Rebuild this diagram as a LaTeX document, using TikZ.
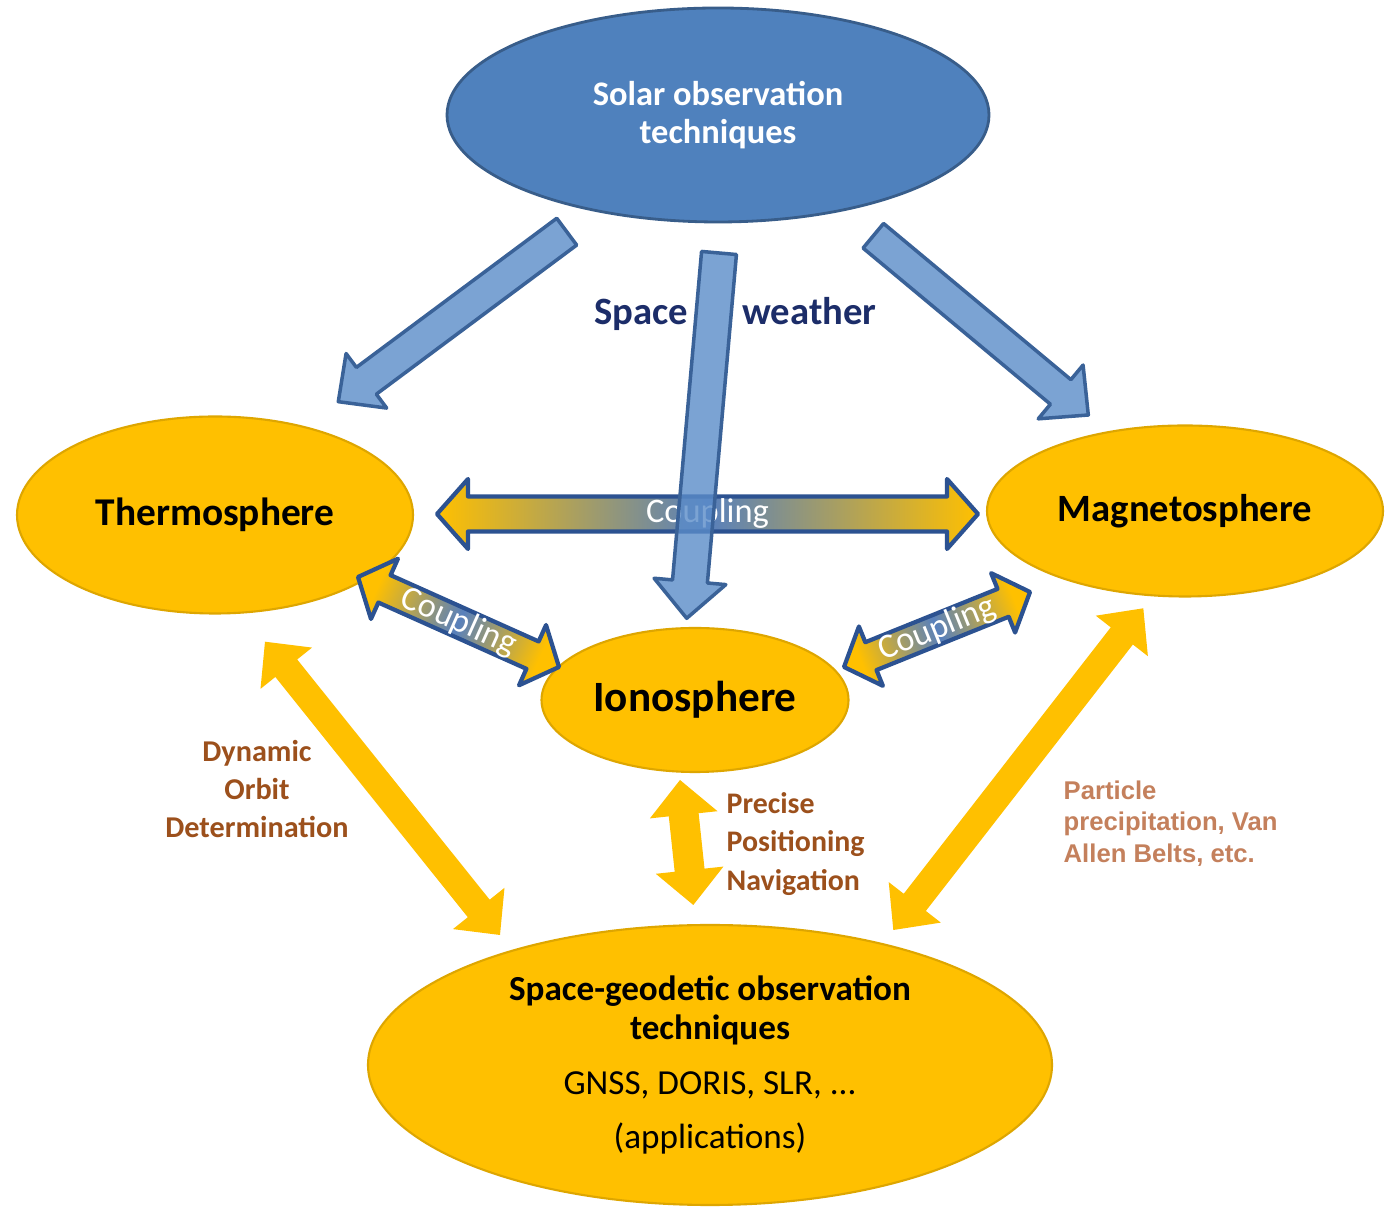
\documentclass[tikz,border=0pt]{standalone}
\usepackage{fontspec}
\setmainfont{Carlito}
\newfontfamily\arialfont{Liberation Sans}
\usepackage{xcolor}
\usetikzlibrary{calc,shapes.geometric}

\definecolor{gold}{RGB}{255,192,0}
\definecolor{goldline}{RGB}{222,166,0}
\definecolor{solarblue}{RGB}{79,129,189}
\definecolor{solarline}{RGB}{56,93,138}
\definecolor{lightblue}{RGB}{91,140,201}
\definecolor{arrowline}{RGB}{58,98,152}
\definecolor{coupline}{RGB}{44,82,145}
\definecolor{coupmid}{RGB}{88,128,188}
\definecolor{navy}{RGB}{28,45,105}
\definecolor{brownlab}{RGB}{156,80,28}
\definecolor{tanlab}{RGB}{196,128,92}

% block arrow: [style]{from}{to}{shaft half width}{head half width}{head length}
\newcommand{\sarrow}[6][]{%
  \path[#1] let \p1=(#2), \p2=(#3), \n1={atan2(\y2-\y1,\x2-\x1)},
    \p3=($(\p2)!#6!(\p1)$) in
    ($(\p1)+(\n1+90:#4)$) -- ($(\p3)+(\n1+90:#4)$) -- ($(\p3)+(\n1+90:#5)$) -- (\p2)
    -- ($(\p3)+(\n1-90:#5)$) -- ($(\p3)+(\n1-90:#4)$) -- ($(\p1)+(\n1-90:#4)$) -- cycle;}
% double block arrow, same arguments
\newcommand{\darrow}[6][]{%
  \path[#1] let \p1=(#2), \p2=(#3), \n1={atan2(\y2-\y1,\x2-\x1)},
    \p3=($(\p1)!#6!(\p2)$), \p4=($(\p2)!#6!(\p1)$) in
    (\p1) -- ($(\p3)+(\n1+90:#5)$) -- ($(\p3)+(\n1+90:#4)$) -- ($(\p4)+(\n1+90:#4)$)
    -- ($(\p4)+(\n1+90:#5)$) -- (\p2) -- ($(\p4)+(\n1-90:#5)$) -- ($(\p4)+(\n1-90:#4)$)
    -- ($(\p3)+(\n1-90:#4)$) -- ($(\p3)+(\n1-90:#5)$) -- cycle;}

\begin{document}
\begin{tikzpicture}[>=latex]
\tikzstyle{sphere}=[ellipse,draw=goldline,line width=0.6pt,fill=gold,inner sep=0pt,align=center]
\tikzstyle{solararrow}=[draw=arrowline,line width=1pt,line join=round,fill=lightblue,fill opacity=0.8]
\tikzstyle{yellowarrow}=[fill=gold]
\tikzstyle{couple}=[draw=coupline,line width=1.2pt,line join=round,left color=gold,right color=gold,middle color=coupmid]
\tikzstyle{coupletext}=[text=white,inner sep=0pt,font=\fontsize{9.8}{11}\selectfont]
\tikzstyle{remark}=[inner sep=0pt,font=\bfseries\fontsize{8.6}{10.8}\selectfont,text=brownlab]

\fill[white] (0,0) rectangle (13.89,12.07);
\useasboundingbox (0,0) rectangle (13.89,12.07);

% spheres
\node[ellipse,draw=solarline,line width=0.8pt,fill=solarblue,inner sep=0pt,minimum width=5.42cm,minimum height=2.14cm,
  text=white,align=center,font=\bfseries\fontsize{9.8}{10.8}\selectfont] (solar) at (7.18,10.92) {Solar observation\\techniques};
\node[sphere,minimum width=3.96cm,minimum height=1.97cm,font=\bfseries\fontsize{11.2}{13}\selectfont] (thermo) at (2.15,6.92) {Thermosphere};
\node[sphere,minimum width=3.96cm,minimum height=1.71cm,font=\bfseries\fontsize{11}{13}\selectfont] (magneto) at (11.85,6.96) {Magnetosphere};
\node[sphere,minimum width=3.07cm,minimum height=1.44cm,font=\bfseries\fontsize{12.3}{14}\selectfont] (iono) at (6.95,5.07) {Ionosphere};
\node[sphere,minimum width=6.84cm,minimum height=2.80cm,font=\fontsize{10}{11.1}\selectfont] (geodetic) at (7.10,1.42)
  {\bfseries Space-geodetic observation\\\bfseries techniques\\[4.5pt]\mdseries GNSS, DORIS, SLR, ...\\[4.5pt]\mdseries (applications)};

% arrow ends
\coordinate (st1) at (5.667,9.753); \coordinate (st2) at (3.383,8.053);
\coordinate (si1) at (7.19,9.54);   \coordinate (si2) at (6.867,5.887);
\coordinate (sm1) at (8.733,9.712); \coordinate (sm2) at (10.883,7.92);
\coordinate (tm1) at (4.37,6.93);   \coordinate (tm2) at (9.78,6.93);
\coordinate (ti1) at (3.58,6.30);   \coordinate (ti2) at (5.59,5.40);
\coordinate (im1) at (8.44,5.40);   \coordinate (im2) at (10.30,6.15);
\coordinate (tg1) at (2.65,5.653);  \coordinate (tg2) at (5.00,2.72);
\coordinate (ig1) at (6.80,4.27);   \coordinate (ig2) at (6.933,3.02);
\coordinate (mg1) at (11.433,5.987);\coordinate (mg2) at (8.933,2.77);

% applications
\darrow[yellowarrow]{tg1}{tg2}{0.14cm}{0.33cm}{0.34cm}
\darrow[yellowarrow]{ig1}{ig2}{0.15cm}{0.34cm}{0.35cm}
\darrow[yellowarrow]{mg1}{mg2}{0.14cm}{0.33cm}{0.35cm}

% coupling
\darrow[couple]{tm1}{tm2}{0.175cm}{0.35cm}{0.31cm}
\darrow[couple,shading angle=65.9]{ti1}{ti2}{0.15cm}{0.33cm}{0.29cm}
\darrow[couple,shading angle=112]{im1}{im2}{0.15cm}{0.32cm}{0.29cm}
\path (tm1) -- node[coupletext] (c1) {Coupling} (tm2);
\path (ti1) -- node[coupletext,sloped] (c2) {Coupling} (ti2);
\path (im1) -- node[coupletext,sloped] (c3) {Coupling} (im2);

% space weather
\sarrow[solararrow]{st1}{st2}{0.167cm}{0.34cm}{0.35cm}
\sarrow[solararrow]{sm1}{sm2}{0.16cm}{0.35cm}{0.36cm}
\sarrow[solararrow]{si1}{si2}{0.175cm}{0.36cm}{0.37cm}
\node[anchor=base,text=navy,font=\bfseries\fontsize{11}{13}\selectfont] (sw) at (7.355,8.82) {Space\hspace{15.4pt}weather};

% labels
\node[remark,align=center] (dod) at (2.57,4.18) {Dynamic\\Orbit\\Determination};
\node[remark,align=left,anchor=west,font=\bfseries\fontsize{8.5}{10.9}\selectfont] (ppn) at (7.26,3.63) {Precise\\Positioning\\Navigation};
\node[remark,align=left,anchor=west,text=tanlab,font=\arialfont\bfseries\fontsize{7.3}{8.96}\selectfont] (pvab) at (10.63,3.835)
  {Particle\\precipitation, Van\\Allen Belts, etc.};
\end{tikzpicture}
\end{document}
